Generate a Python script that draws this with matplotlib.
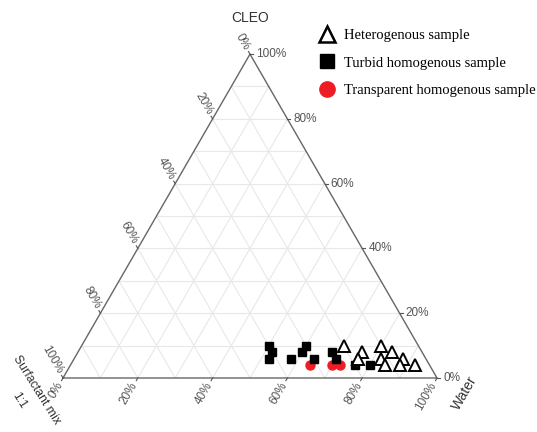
import numpy as np
import matplotlib
matplotlib.use("Agg")
import matplotlib.pyplot as plt
from matplotlib.lines import Line2D

# ternary data, % (Water, CLEO); surfactant mix is the rest
het_water = [70, 80, 76, 84, 76, 82, 88, 84, 88, 92]
het_cleo = [10, 10, 8, 8, 6, 6, 6, 4, 4, 4]
turb_water = [50, 52, 52, 58, 60, 60, 64, 68, 70, 76, 80]
turb_cleo = [10, 8, 6, 6, 8, 10, 6, 8, 6, 4, 4]
trans_water = [64, 70, 72]
trans_cleo = [4, 4, 4]

tick_vals = [0, 20, 40, 60, 80, 100]
tick_labels = ["0%", "20%", "40%", "60%", "80%", "100%"]

H = np.sqrt(3) / 2
PX = 1 / 374.0  # one pixel in data units


def to_xy(water, cleo):
    w = np.asarray(water) / 100.0
    c = np.asarray(cleo) / 100.0
    return w + c / 2, c * H


def pix(px, py):
    # picture pixel -> data coords
    return (px - 63) * PX, (378 - py) * PX


fig = plt.figure(figsize=(5.37, 4.32), dpi=100)
ax = fig.add_axes([0, 0, 1, 1])
ax.set_xlim(-63 * PX, (537 - 63) * PX)
ax.set_ylim(-54 * PX, 378 * PX)
ax.axis("off")

# grid every 10%
grid_col = "#e8e8e8"
for k in range(1, 10):
    f = k / 10.0
    # constant cleo (horizontal)
    ax.plot([f / 2, 1 - f / 2], [f * H, f * H], color=grid_col, lw=0.8, zorder=1)
    # constant water
    ax.plot([f, f + (1 - f) / 2], [0, (1 - f) * H], color=grid_col, lw=0.8, zorder=1)
    # constant surfactant
    ax.plot([1 - f, (1 - f) / 2], [0, (1 - f) * H], color=grid_col, lw=0.8, zorder=1)

# border
ax.plot([0, 1, 0.5, 0], [0, 0, H, 0], color="#666666", lw=1.0, zorder=2)

tick_col = "#555555"
tfs = 8.5
tl = 3 * PX
for v, lab in zip(tick_vals, tick_labels):
    f = v / 100.0
    # bottom axis: water
    x0, y0 = f, 0
    d = np.array([-0.5, -H])
    ax.plot([x0, x0 + d[0] * tl], [y0, y0 + d[1] * tl], color=tick_col, lw=0.8)
    ax.text(x0 + d[0] * 6 * PX, y0 + d[1] * 6 * PX, lab, rotation=60,
            rotation_mode="anchor", ha="right", va="center",
            fontsize=tfs, color=tick_col, family="Liberation Sans")
    # right axis: cleo
    x0, y0 = 1 - f / 2, f * H
    ax.plot([x0, x0 + tl], [y0, y0], color=tick_col, lw=0.8)
    ax.text(x0 + 6 * PX, y0, lab, ha="left", va="center",
            fontsize=tfs, color=tick_col, family="Liberation Sans")
    # left axis: surfactant mix
    x0, y0 = (1 - f) / 2, (1 - f) * H
    d = np.array([-0.5, H])
    ax.plot([x0, x0 + d[0] * tl], [y0, y0 + d[1] * tl], color=tick_col, lw=0.8)
    ax.text(x0 + d[0] * 6 * PX, y0 + d[1] * 6 * PX, lab, rotation=-60,
            rotation_mode="anchor", ha="right", va="center",
            fontsize=tfs, color=tick_col, family="Liberation Sans")

# axis titles
ax.text(0.5, H + 36 * PX, "CLEO", ha="center", va="center", fontsize=10,
        color="#333333", family="Liberation Sans")
ax.text(*pix(465, 393), "Water", rotation=60, ha="center",
        va="center", fontsize=10, color="#333333", family="Liberation Sans")
ax.text(*pix(36, 390), "Surfactant mix", rotation=-58, ha="center",
        va="center", fontsize=8.8, color="#333333", family="Liberation Sans")
ax.text(*pix(19, 401), "1:1", rotation=-58, ha="center",
        va="center", fontsize=8.8, color="#333333", family="Liberation Sans")

# points
x, y = to_xy(trans_water, trans_cleo)
ax.plot(x, y, "o", ms=6.5, color="#ee1c25", mec="#ee1c25", zorder=3)
x, y = to_xy(turb_water, turb_cleo)
ax.plot(x, y, "s", ms=6.2, color="black", zorder=4)
x, y = to_xy(het_water, het_cleo)
ax.plot(x, y, "^", ms=8, mfc="white", mec="black", mew=1.4, zorder=5)

handles = [
    Line2D([], [], ls="none", marker="^", ms=11, mfc="white", mec="black", mew=1.8),
    Line2D([], [], ls="none", marker="s", ms=10, color="black"),
    Line2D([], [], ls="none", marker="o", ms=11, color="#ee1c25"),
]
labels = ["Heterogenous sample", "Turbid homogenous sample", "Transparent homogenous sample"]
ax.legend(handles, labels, loc="upper left", bbox_to_anchor=(318 / 537, 1 - 29 / 432),
          frameon=False, prop={"family": "Liberation Serif", "size": 10.5},
          labelspacing=0.97, handlelength=1.2, handletextpad=0.55, borderpad=0,
          borderaxespad=0)

fig.savefig("out.png", dpi=100)
